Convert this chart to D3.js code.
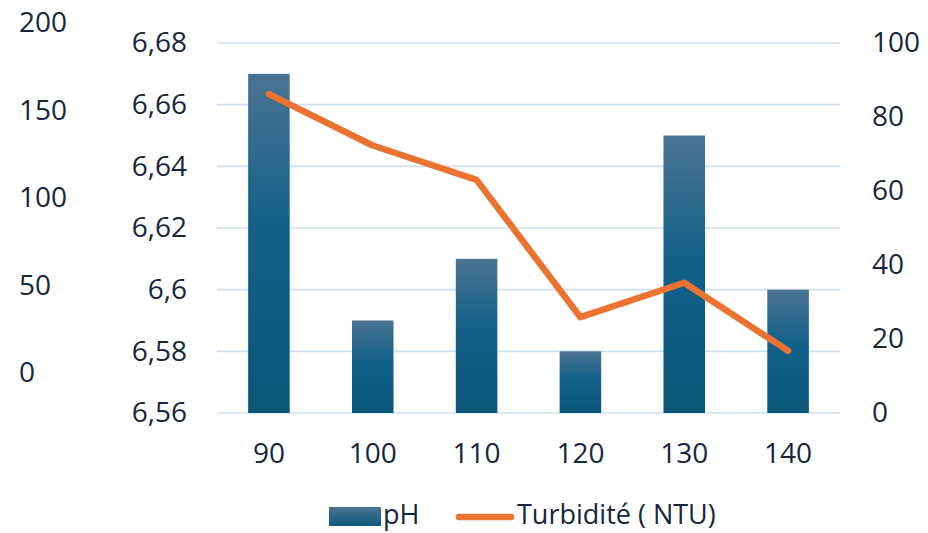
<!DOCTYPE html>
<html>
<head>
<meta charset="utf-8">
<script src="https://cdn.jsdelivr.net/npm/d3@7/dist/d3.min.js"></script>
<style>
  html, body { margin: 0; padding: 0; background: #ffffff; }
  svg { display: block; }
  text { font-family: "Open Sans", "Noto Sans", sans-serif; fill: #16263f; }
</style>
</head>
<body>
<svg id="chart" width="928" height="533"></svg>
<script>
const categories = ["90", "100", "110", "120", "130", "140"];
const phValues = [6.67, 6.59, 6.61, 6.58, 6.65, 6.60];
const turbidityValues = [86.2, 72.3, 63, 25.9, 35.2, 16.8];
const phTicks = [6.56, 6.58, 6.60, 6.62, 6.64, 6.66, 6.68];
const rightTicks = [0, 20, 40, 60, 80, 100];
const outerTicks = [0, 50, 100, 150, 200];
const seriesNames = ["pH", "Turbidité ( NTU)"];

const svg = d3.select("#chart");
const plot = { left: 217, right: 840, top: 43, bottom: 413 };
const fontSize = 28;

const defs = svg.append("defs");
const grad = defs.append("linearGradient")
  .attr("id", "barGrad").attr("x1", 0).attr("y1", 0).attr("x2", 0).attr("y2", 1);
grad.append("stop").attr("offset", "0%").attr("stop-color", "#4b7391");
grad.append("stop").attr("offset", "45%").attr("stop-color", "#11618a");
grad.append("stop").attr("offset", "100%").attr("stop-color", "#0a5679");
const gradL = defs.append("linearGradient")
  .attr("id", "legGrad").attr("x1", 0).attr("y1", 0).attr("x2", 0).attr("y2", 1);
gradL.append("stop").attr("offset", "0%").attr("stop-color", "#4b7391");
gradL.append("stop").attr("offset", "100%").attr("stop-color", "#0c5a7e");

const x = d3.scaleBand().domain(categories).range([plot.left, plot.right]).paddingInner(0.6).paddingOuter(0.3);
const yPh = d3.scaleLinear().domain([6.56, 6.68]).range([plot.bottom, plot.top]);
const yR = d3.scaleLinear().domain([0, 100]).range([plot.bottom, plot.top]);
const yOuter = d3.scaleLinear().domain([0, 200]).range([373, 23]);

const fmtComma = d => d3.format("~g")(+d.toFixed(2)).replace(".", ",");

// gridlines
svg.append("g").selectAll("line").data(phTicks).join("line")
  .attr("x1", plot.left).attr("x2", plot.right)
  .attr("y1", d => yPh(d)).attr("y2", d => yPh(d))
  .attr("stroke", "#cfe0f3").attr("stroke-width", 1.6);

// left pH axis
const axL = d3.axisLeft(yPh).tickValues(phTicks).tickFormat(fmtComma).tickSize(0).tickPadding(0);
const gL = svg.append("g").attr("transform", "translate(187,0)").call(axL);
gL.select(".domain").remove();
gL.selectAll("text").style("font-size", fontSize + "px").attr("font-family", null).attr("fill", "#16263f");

// outer axis
const axO = d3.axisLeft(yOuter).tickValues(outerTicks).tickFormat(d3.format("d")).tickSize(0).tickPadding(0);
const gO = svg.append("g").attr("transform", "translate(19,0)").call(axO);
gO.select(".domain").remove();
gO.selectAll("text").attr("text-anchor", "start").style("font-size", fontSize + "px").attr("font-family", null).attr("fill", "#16263f");

// right axis
const axR = d3.axisRight(yR).tickValues(rightTicks).tickFormat(d3.format("d")).tickSize(0).tickPadding(0);
const gR = svg.append("g").attr("transform", "translate(872,0)").call(axR);
gR.select(".domain").remove();
gR.selectAll("text").style("font-size", fontSize + "px").attr("font-family", null).attr("fill", "#16263f");

// bottom axis
const axB = d3.axisBottom(x).tickSize(0).tickPadding(0);
const gB = svg.append("g").attr("transform", "translate(0,443)").call(axB);
gB.select(".domain").remove();
gB.selectAll("text").style("font-size", fontSize + "px").attr("font-family", null).attr("fill", "#16263f").attr("dy", "0.71em");

// bars
svg.append("g").selectAll("rect").data(phValues).join("rect")
  .attr("x", (d, i) => x(categories[i]))
  .attr("width", x.bandwidth())
  .attr("y", d => yPh(d))
  .attr("height", d => yPh(6.56) - yPh(d))
  .attr("fill", "url(#barGrad)");

// line
const line = d3.line()
  .x((d, i) => x(categories[i]) + x.bandwidth() / 2)
  .y(d => yR(d));
svg.append("path").datum(turbidityValues)
  .attr("d", line)
  .attr("fill", "none")
  .attr("stroke", "#ea7331")
  .attr("stroke-width", 6.5)
  .attr("stroke-linejoin", "round")
  .attr("stroke-linecap", "round");

// legend
const lg = svg.append("g");
lg.append("rect").attr("x", 329).attr("y", 507).attr("width", 52).attr("height", 19).attr("fill", "url(#legGrad)");
lg.append("text").attr("x", 383).attr("y", 524).style("font-size", "27px").text(seriesNames[0]);
lg.append("line").attr("x1", 459).attr("x2", 511).attr("y1", 517).attr("y2", 517)
  .attr("stroke", "#ea7331").attr("stroke-width", 6.5).attr("stroke-linecap", "round");
lg.append("text").attr("x", 517).attr("y", 524).style("font-size", "27px").text(seriesNames[1]);
</script>
</body>
</html>
